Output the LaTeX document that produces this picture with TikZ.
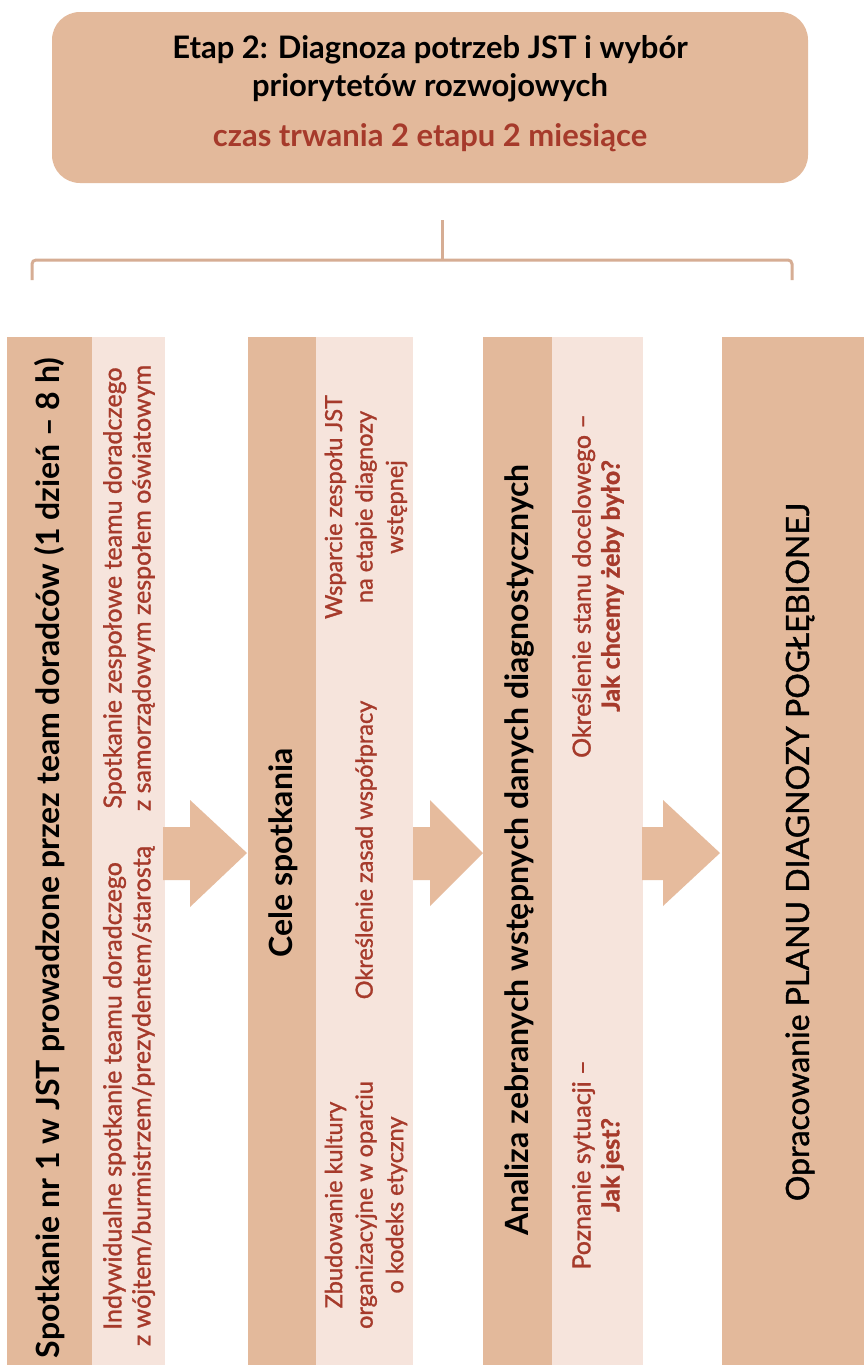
\documentclass[tikz,border=0pt]{standalone}
\usepackage{fontspec}
\setmainfont{Lato}
\newfontfamily\latomed[FakeBold=1.2]{Lato}
\definecolor{peach}{HTML}{E3B99B}
\definecolor{pale}{HTML}{F6E4DC}
\definecolor{redtxt}{HTML}{A63A2B}
\definecolor{bracec}{HTML}{D6AD94}
\definecolor{arrowc}{HTML}{E6BB9D}
\begin{document}
\begin{tikzpicture}[x=1pt,y=-1pt,
  topbox/.style={fill=peach, rounded corners=28pt, minimum width=756pt, minimum height=171pt, inner sep=0pt},
  darkcol/.style={fill=peach},
  palecol/.style={fill=pale},
  coltitle/.style={rotate=90, font=\fontsize{32}{38}\selectfont\bfseries, text=black, align=center, inner sep=0pt},
  colnote/.style={rotate=90, font=\fontsize{25}{29}\selectfont\latomed, text=redtxt, align=center, inner sep=0pt},
  colnotes/.style={rotate=90, font=\fontsize{23.5}{30.5}\selectfont\latomed, text=redtxt, align=center, inner sep=0pt},
  blockarrow/.style={fill=arrowc},
  bracel/.style={draw=bracec, line width=3pt, rounded corners=4pt}
]
\useasboundingbox (0,0) rectangle (864,1365);
\fill[white] (0,0) rectangle (864,1365);

% top box
\node[topbox] (top) at (430,97.5) {};
\node[font=\fontsize{31}{38}\selectfont\bfseries, align=center, inner sep=0pt] (title) at (430,69) {Etap 2: Diagnoza potrzeb JST i wybór\\priorytetów rozwojowych};
\node[font=\fontsize{31}{38}\selectfont\bfseries, text=redtxt, inner sep=0pt] (dur) at (430,138) {czas trwania 2 etapu 2 miesiące};

% brace
\coordinate (bt) at (442,220);
\coordinate (bm) at (442,260);
\coordinate (bl) at (32,280);
\coordinate (br) at (792,280);
\draw[bracel] (bt) -- (bm);
\draw[bracel] (bl) -- (bl |- bm) -- (br |- bm) -- (br);

% columns
\fill[darkcol] (7,337) rectangle (92,1365);
\fill[palecol] (92,337) rectangle (165,1365);
\fill[darkcol] (248,337) rectangle (316,1365);
\fill[palecol] (316,337) rectangle (413,1365);
\fill[darkcol] (483,337) rectangle (552,1365);
\fill[palecol] (552,337) rectangle (643,1365);
\fill[darkcol] (722,337) rectangle (864,1365);

% arrows
\fill[blockarrow] (163,827) -- (190,827) -- (190,800) -- (247,853) -- (190,907) -- (190,880) -- (163,880) -- cycle;
\fill[blockarrow] (413,827) -- (430,827) -- (430,800) -- (483,853) -- (430,906) -- (430,880) -- (413,880) -- cycle;
\fill[blockarrow] (642,827) -- (663,827) -- (663,800) -- (720,853) -- (663,906) -- (663,880) -- (642,880) -- cycle;

% texts column 1
\node[coltitle] (t1) at (50,858) {Spotkanie nr 1 w JST prowadzone przez team doradców (1 dzień – 8 h)};
\node[colnote] (t1a) at (129,1096) {Indywidualne spotkanie teamu doradczego\\z wójtem/burmistrzem/prezydentem/starostą};
\node[colnote] (t1b) at (129,588) {Spotkanie zespołowe teamu doradczego\\z samorządowym zespołem oświatowym};

% column 2
\node[coltitle] (t2) at (283,853) {Cele spotkania};
\node[colnotes] (t2a) at (366,507) {Wsparcie zespołu JST\\na etapie diagnozy\\wstępnej};
\node[colnotes] (t2b) at (366,850) {Określenie zasad współpracy};
\node[colnotes] (t2c) at (366,1205) {Zbudowanie kultury\\organizacyjne w oparciu\\o kodeks etyczny};

% column 3
\node[coltitle] (t3) at (519,850) {Analiza zebranych wstępnych danych diagnostycznych};
\node[colnote] (t3a) at (598,586) {Określenie stanu docelowego –\\\textbf{Jak chcemy żeby było?}};
\node[colnote] (t3b) at (598,1165) {Poznanie sytuacji –\\\textbf{Jak jest?}};

% column 4
\node[coltitle, font=\fontsize{32}{38}\selectfont\latomed] (t4) at (800,852) {Opracowanie PLANU DIAGNOZY POGŁĘBIONEJ};
\end{tikzpicture}
\end{document}
